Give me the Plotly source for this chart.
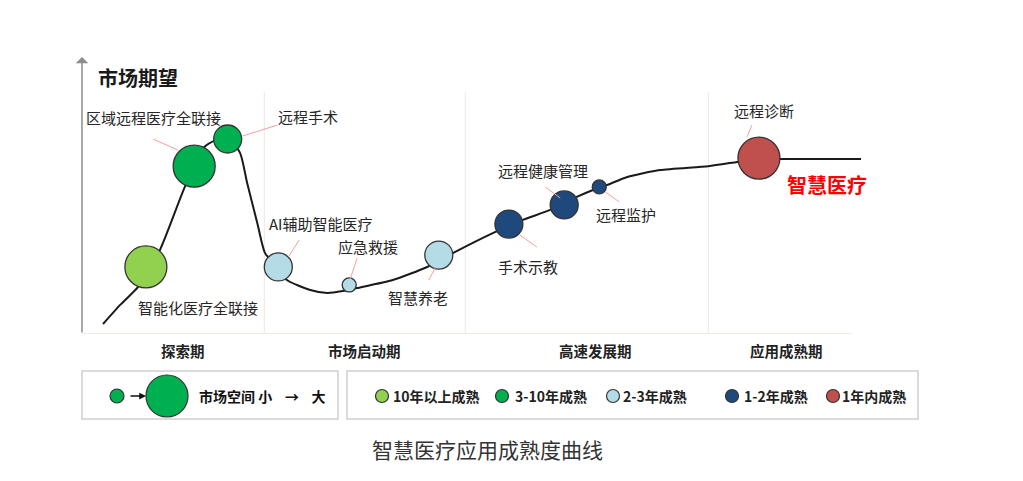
import plotly.graph_objects as go

# ---- data (x = time 0..100, y = market expectation 0..100) ----
curve_x = [2.7, 4.9, 7.2, 10.0, 13.2, 15.7, 17.2, 18.7, 20.3, 21.2, 22.5, 23.5, 25.2, 26.3,
           29.3, 31.5, 33.5, 35.3, 39.9, 44.3, 47.6, 52.8, 56.6, 60.1, 63.5, 65.6, 67.4,
           70.0, 74.2, 80.4, 84.1, 86.9, 89.6, 100.0]
curve_y = [3.6, 10.5, 17.0, 30.3, 53.1, 67.5, 70.0, 70.8, 65.3, 54.5, 40.1, 29.2, 23.8, 19.5,
           15.9, 14.8, 15.5, 16.6, 19.5, 24.2, 29.2, 36.5, 41.2, 44.8, 49.5, 52.0, 53.8,
           56.7, 59.2, 60.6, 62.1, 63.2, 63.2, 63.2]

apps = ['智能化医疗全联接', '区域远程医疗全联接', '远程手术', 'AI辅助智能医疗', '应急救援',
        '智慧养老', '手术示教', '远程健康管理', '远程监护', '远程诊断']
app_x = [8.2, 14.4, 18.7, 25.2, 34.3, 45.8, 54.8, 61.9, 66.4, 86.9]
app_y = [24.2, 60.6, 70.4, 24.2, 17.7, 28.5, 39.7, 46.6, 53.1, 63.5]
app_maturity = [0, 1, 1, 2, 2, 2, 3, 3, 3, 4]
app_space = [3, 3, 2, 2, 1, 2, 2, 2, 1, 3]   # market space: 1 small .. 3 large

maturity = ['10年以上成熟', '3-10年成熟', '2-3年成熟', '1-2年成熟', '1年内成熟']
phases = ['探索期', '市场启动期', '高速发展期', '应用成熟期']
phase_bounds = [23.4, 49.2, 80.4]
phase_label_x = [13.0, 36.3, 65.9, 90.4]

# ---- styles ----
colors = ['#92D050', '#00B050', '#B4DCE6', '#1F497D', '#C0504D']
space_px = {1: 14, 2: 28, 3: 42}
FONT = 'Noto Sans CJK SC, Noto Sans, sans-serif'
TXT = '#262626'
# label offsets (px, y up) and leader segments relative to bubble centre
label_off = [(52, -41), (-41, 49), (80, 22), (43, 43), (19, 38),
             (-21, -42), (19, -42), (-21, 34), (27, -28), (5, 48)]
leaders = [None, (-41, 27, -16, 16), (15, 3, 50, 14), (10, 10, 21, 27), (1, 6, 8, 27),
           (-3, -12, -10, -25), (11, -11, 28, -23), (-19, 18, -4, 7), (6, -5, 20, -15),
           (-7, 33, -12, 21)]

W, H = 1023, 481
ML, MR, MT, MB = 82, 162, 57, 147
PW, PH = W - ML - MR, H - MT - MB


def px(p):
    return (p - ML) / PW


def py(p):
    return (H - MB - p) / PH


fig = go.Figure()

fig.add_trace(go.Scatter(x=curve_x, y=curve_y, mode='lines', hoverinfo='skip',
                         line=dict(color='#1A1A1A', width=2, shape='spline', smoothing=0.6),
                         showlegend=False))

for k, name in enumerate(maturity):
    idx = [i for i in range(len(apps)) if app_maturity[i] == k]
    fig.add_trace(go.Scatter(
        x=[app_x[i] for i in idx], y=[app_y[i] for i in idx],
        mode='markers', name=name, showlegend=False,
        text=[apps[i] for i in idx], hovertemplate='%{text}<extra>' + name + '</extra>',
        marker=dict(size=[space_px[app_space[i]] for i in idx], color=colors[k],
                    opacity=1, line=dict(color='#333333', width=1.3))))

shapes = []
annotations = []

# phase dividers and baseline
for b in phase_bounds:
    shapes.append(dict(type='line', xref='x', yref='y', x0=b, x1=b, y0=0, y1=87.4,
                       line=dict(color='#ECE8DF', width=1), layer='below'))
shapes.append(dict(type='line', xref='x', yref='y', x0=0, x1=98.8, y0=0, y1=0,
                   line=dict(color='#EEEBE3', width=2), layer='below'))

# y axis with arrow
annotations.append(dict(x=0, y=100, ax=0, ay=0, axref='x', ayref='y', xref='x', yref='y',
                        text='', showarrow=True, arrowhead=1, arrowsize=1.4, arrowwidth=1.5,
                        arrowcolor='#8C8C8C'))


def note(x, y, text, size, color, xanchor='center', bold=False):
    return dict(x=px(x), y=py(y), xref='paper', yref='paper', xanchor=xanchor,
                yanchor='middle', showarrow=False,
                text='<b>%s</b>' % text if bold else text,
                font=dict(family=FONT, size=size, color=color))


annotations.append(note(96, 78, '市场期望', 20, '#1A1A1A', 'left', True))

for name, lx in zip(phases, phase_label_x):
    annotations.append(dict(x=lx, y=0, xref='x', yref='y', yshift=-16, yanchor='middle',
                            text='<b>%s</b>' % name, showarrow=False,
                            font=dict(family=FONT, size=14.5, color='#222222')))

# application labels and leader lines
for i, name in enumerate(apps):
    dx, dy = label_off[i]
    annotations.append(dict(x=app_x[i], y=app_y[i], xref='x', yref='y', xshift=dx, yshift=dy,
                            xanchor='center', yanchor='middle', text=name, showarrow=False,
                            font=dict(family=FONT, size=15, color=TXT)))
    if leaders[i]:
        x0, y0, x1, y1 = leaders[i]
        shapes.append(dict(type='line', xref='x', yref='y', xsizemode='pixel', ysizemode='pixel',
                           xanchor=app_x[i], yanchor=app_y[i], x0=x0, y0=y0, x1=x1, y1=y1,
                           line=dict(color='#F4A0A0', width=1)))

annotations.append(dict(x=app_x[-1], y=app_y[-1], xref='x', yref='y', xshift=68, yshift=-26,
                        xanchor='center', yanchor='middle',
                        text='<b>智慧医疗</b>', showarrow=False,
                        font=dict(family=FONT, size=20, color='#FF0000')))

# legend boxes
for x0, x1 in [(82, 338), (347, 918)]:
    shapes.append(dict(type='rect', xref='paper', yref='paper', x0=px(x0), x1=px(x1),
                       y0=py(419), y1=py(371), line=dict(color='#D0D0D0', width=1.5)))


def circle(cx, cy, r, color):
    return dict(type='circle', xref='paper', yref='paper', xsizemode='pixel', ysizemode='pixel',
                xanchor=px(cx), yanchor=py(cy), x0=-r, x1=r, y0=-r, y1=r,
                fillcolor=color, line=dict(color='#333333', width=1.2))


shapes.append(circle(117, 396, 7, colors[1]))
shapes.append(circle(167, 396, 21, colors[1]))
annotations.append(dict(x=px(146), y=py(396), xref='paper', yref='paper', ax=-17, ay=0,
                        text='', showarrow=True, arrowhead=2, arrowsize=0.9, arrowwidth=1.5,
                        arrowcolor='#111111'))
annotations.append(note(197, 396, '市场空间&nbsp;小&nbsp;&nbsp;&nbsp;&nbsp;→&nbsp;&nbsp;&nbsp;&nbsp;大',
                        14, '#111111', 'left', True))

leg_cx = [382, 502, 613, 732, 833]
leg_tx = [391, 513, 621, 742, 840]
for k, name in enumerate(maturity):
    shapes.append(circle(leg_cx[k], 396, 6.5, colors[k]))
    annotations.append(note(leg_tx[k], 396, name, 14, '#222222', 'left', True))

annotations.append(note(487, 449, '智慧医疗应用成熟度曲线', 21, '#333333'))

fig.update_layout(
    width=W, height=H,
    margin=dict(l=ML, r=MR, t=MT, b=MB, pad=0),
    paper_bgcolor='white', plot_bgcolor='white',
    xaxis=dict(range=[0, 100], visible=False, fixedrange=True),
    yaxis=dict(range=[0, 100], visible=False, fixedrange=True),
    shapes=shapes, annotations=annotations,
    font=dict(family=FONT),
    showlegend=False,
)

fig.write_html("out.html", config={'displayModeBar': False},
               post_script="document.body.style.margin='0';")
